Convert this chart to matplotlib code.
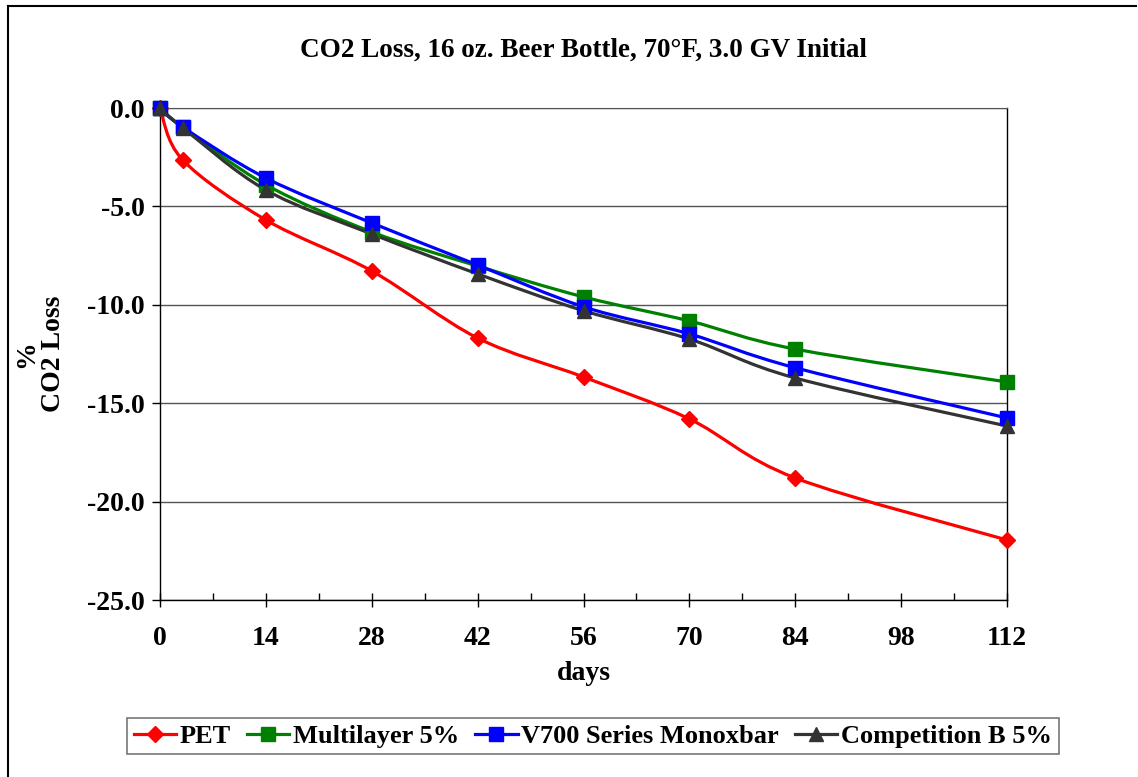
import numpy as np
import matplotlib
matplotlib.use("Agg")
import matplotlib.pyplot as plt
from matplotlib.path import Path
from matplotlib.patches import PathPatch
from matplotlib.lines import Line2D

days = [0, 3, 14, 28, 42, 56, 70, 84, 112]
pet = [0.0, -2.64, -5.69, -8.28, -11.69, -13.67, -15.8, -18.8, -21.95]
multilayer = [0.0, -0.97, -3.9, -6.3, -8.03, -9.6, -10.82, -12.25, -13.92]
v700 = [0.0, -0.97, -3.56, -5.84, -7.98, -10.1, -11.48, -13.2, -15.75]
comp_b = [0.0, -1.0, -4.17, -6.4, -8.43, -10.3, -11.74, -13.72, -16.16]

names = ["PET", "Multilayer 5%", "V700 Series Monoxbar", "Competition B 5%"]
colors = ["#ff0000", "#008000", "#0000ff", "#333333"]
markers = ["D", "s", "s", "^"]
msizes = [8, 9.5, 9.5, 10]

plt.rcParams["font.family"] = ["Liberation Serif", "DejaVu Serif"]
plt.rcParams["font.weight"] = "bold"


def smooth_path(x, y, t=1/6):
    # excel-like smoothed line: cubic bezier through the read points
    x = np.asarray(x, float)
    y = np.asarray(y, float)
    verts = [(x[0], y[0])]
    codes = [Path.MOVETO]
    n = len(x)
    for i in range(n - 1):
        i0 = max(i - 1, 0)
        i3 = min(i + 2, n - 1)
        c1 = (x[i] + (x[i + 1] - x[i0]) * t, y[i] + (y[i + 1] - y[i0]) * t)
        c2 = (x[i + 1] - (x[i3] - x[i]) * t, y[i + 1] - (y[i3] - y[i]) * t)
        verts += [c1, c2, (x[i + 1], y[i + 1])]
        codes += [Path.CURVE4] * 3
    return Path(verts, codes)


fig = plt.figure(figsize=(11.38, 7.77), dpi=100)
ax = fig.add_axes([160 / 1138, 1 - 600 / 777, (1007 - 160) / 1138, (600 - 108) / 777])

series = [pet, multilayer, v700, comp_b]
handles = []
for vals, name, c, m, ms in zip(series, names, colors, markers, msizes):
    ax.add_patch(PathPatch(smooth_path(days, vals), facecolor="none", edgecolor=c,
                           lw=2.3, zorder=3, clip_on=False))
    ax.plot(days, vals, linestyle="none", marker=m, color=c, markersize=ms,
            zorder=4, clip_on=False)
    handles.append(Line2D([], [], color=c, lw=2.3, marker=m, markersize=ms, label=name))

ax.set_xlim(0, 112)
ax.set_ylim(-25, 0)
ax.set_xticks(np.arange(0, 113, 14))
ax.set_xticks(np.arange(7, 112, 14), minor=True)
ax.set_yticks(np.arange(-25, 0.1, 5))
ax.set_yticklabels(["%.1f" % v for v in np.arange(-25, 0.1, 5)])
ax.tick_params(axis="x", which="major", direction="inout", length=10, width=1,
               labelsize=20, pad=14)
ax.tick_params(axis="x", which="minor", direction="in", length=5, width=1)
ax.tick_params(axis="y", which="major", direction="out", length=6, width=1,
               labelsize=20, pad=5)
for lab in ax.get_xticklabels() + ax.get_yticklabels():
    lab.set_fontweight("bold")

ax.grid(axis="y", color="#555555", lw=1)
ax.set_axisbelow(True)
ax.spines["top"].set_color("#555555")
for s in ["left", "bottom", "right"]:
    ax.spines[s].set_color("black")
    ax.spines[s].set_linewidth(1)

ax.set_xlabel("days", fontsize=20, fontweight="bold", labelpad=7)
ax.set_ylabel("%\nCO2 Loss", fontsize=20, fontweight="bold", labelpad=15,
              linespacing=1.1)
ax.set_title("CO2 Loss, 16 oz. Beer Bottle, 70\u00b0F, 3.0 GV Initial",
             fontsize=19.5, fontweight="bold", pad=37)

leg = fig.legend(handles=handles, loc="center", bbox_to_anchor=(593 / 1138, 1 - 736 / 777),
                 ncol=4, frameon=True, fontsize=19, handlelength=1.6,
                 handletextpad=0.15, columnspacing=0.6, borderpad=0.25,
                 fancybox=False, edgecolor="#555555")
leg.get_frame().set_linewidth(1.2)
for t in leg.get_texts():
    t.set_fontweight("bold")

# outer chart border (only left and top are visible in the reference)
fig.add_artist(Line2D([8 / 1138, 8 / 1138], [0, 1 - 6 / 777], transform=fig.transFigure,
                      color="black", lw=1.5))
fig.add_artist(Line2D([8 / 1138, 1136 / 1138], [1 - 6 / 777, 1 - 6 / 777],
                      transform=fig.transFigure, color="black", lw=1.5))

fig.savefig("out.png", dpi=100, facecolor="white")
